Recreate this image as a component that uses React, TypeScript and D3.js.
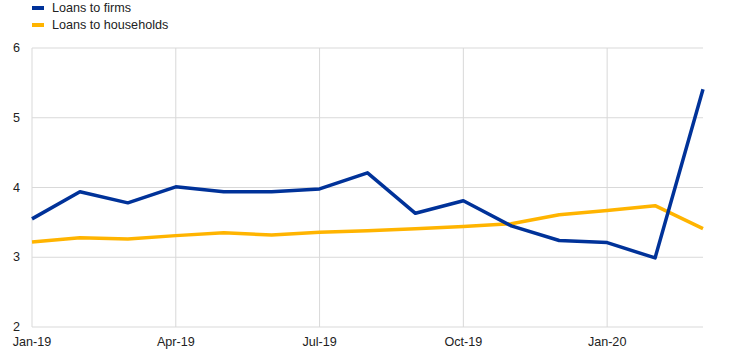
import React from "react";
import * as d3 from "d3";

const months = ["Jan-19","Feb-19","Mar-19","Apr-19","May-19","Jun-19","Jul-19","Aug-19","Sep-19","Oct-19","Nov-19","Dec-19","Jan-20","Feb-20","Mar-20"];
const firms = [3.55,3.94,3.78,4.01,3.94,3.94,3.98,4.21,3.63,3.81,3.45,3.24,3.21,2.99,5.41];
const households = [3.22,3.28,3.26,3.31,3.35,3.32,3.36,3.38,3.41,3.44,3.48,3.61,3.67,3.74,3.41];
const yTicks = [2,3,4,5,6];
const xTickLabels = ["Jan-19","Apr-19","Jul-19","Oct-19","Jan-20"];
const seriesNames = ["Loans to firms","Loans to households"];

const W = 742, H = 352;
const left = 32, right = 703, top = 48, bottom = 327;
const BLUE = "#003299", YELLOW = "#FFB400", GRID = "#d9d9d9";
const FONT = "Arial, 'Liberation Sans', sans-serif";

export default function App() {
  const x = d3.scalePoint<string>().domain(months).range([left, right]);
  const y = d3.scaleLinear().domain([2, 6]).range([bottom, top]);
  const line = d3.line<number>().x((_, i) => x(months[i])!).y((d) => y(d));
  return (
    <svg width={W} height={H} style={{ position: "absolute", left: 0, top: 0 }}>
      <rect width={W} height={H} fill="#fff" />
      {yTicks.map((t) => (
        <g key={t}>
          <line x1={left} x2={right} y1={y(t)} y2={y(t)} stroke={GRID} strokeWidth={1} />
          <text x={20} y={y(t) + 4} textAnchor="end" fontFamily={FONT} fontSize={12.6} fill="#222">{t}</text>
        </g>
      ))}
      <line x1={left} x2={left} y1={top} y2={bottom} stroke={GRID} strokeWidth={1} />
      {xTickLabels.map((m) => (
        <g key={m}>
          {m !== "Jan-19" && (
            <line x1={x(m)} x2={x(m)} y1={top} y2={bottom} stroke={GRID} strokeWidth={1} />
          )}
          <text x={x(m)} y={346} textAnchor="middle" fontFamily={FONT} fontSize={12.6} fill="#222">{m}</text>
        </g>
      ))}
      <path d={line(households)!} fill="none" stroke={YELLOW} strokeWidth={3.5} strokeLinejoin="round" />
      <path d={line(firms)!} fill="none" stroke={BLUE} strokeWidth={3.5} strokeLinejoin="round" />
      {seriesNames.map((n, i) => (
        <g key={n}>
          <rect x={32} y={6 + i * 17} width={12} height={4} fill={i === 0 ? BLUE : YELLOW} />
          <text x={52} y={12 + i * 17} fontFamily={FONT} fontSize={12.6} fill="#222">{n}</text>
        </g>
      ))}
    </svg>
  );
}
